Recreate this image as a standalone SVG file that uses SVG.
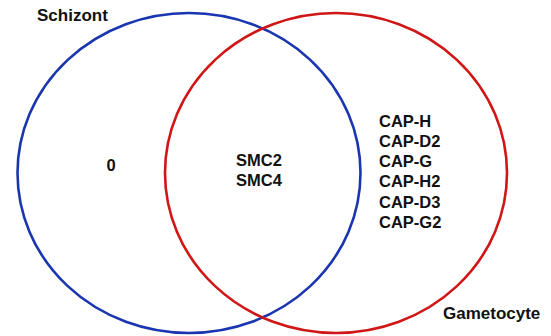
<svg xmlns="http://www.w3.org/2000/svg" width="551" height="336" viewBox="0 0 551 336">
<style>
.c{fill:none;stroke-width:2.6}
.t{font-family:"Liberation Sans",Arial,sans-serif;font-weight:bold;fill:#111;font-size:16.5px}
.l{font-size:17px}
</style>
<rect width="551" height="336" fill="#fff"/>
<g id="schizont">
<ellipse class="c" cx="189" cy="173" rx="171.5" ry="160" stroke="#1a35b0"/>
<text class="t l" x="37" y="21">Schizont</text>
<text class="t" x="111" y="170.5" text-anchor="middle">0</text>
</g>
<g id="gametocyte">
<ellipse class="c" cx="336" cy="173" rx="171" ry="160" stroke="#d01616"/>
<text class="t l" x="443" y="319">Gametocyte</text>
<text class="t" x="379" y="126.5">CAP-H</text>
<text class="t" x="379" y="146.8">CAP-D2</text>
<text class="t" x="379" y="167">CAP-G</text>
<text class="t" x="379" y="187.3">CAP-H2</text>
<text class="t" x="379" y="207.6">CAP-D3</text>
<text class="t" x="379" y="228">CAP-G2</text>
</g>
<g id="overlap">
<text class="t" x="236" y="166">SMC2</text>
<text class="t" x="236" y="186">SMC4</text>
</g>
</svg>
